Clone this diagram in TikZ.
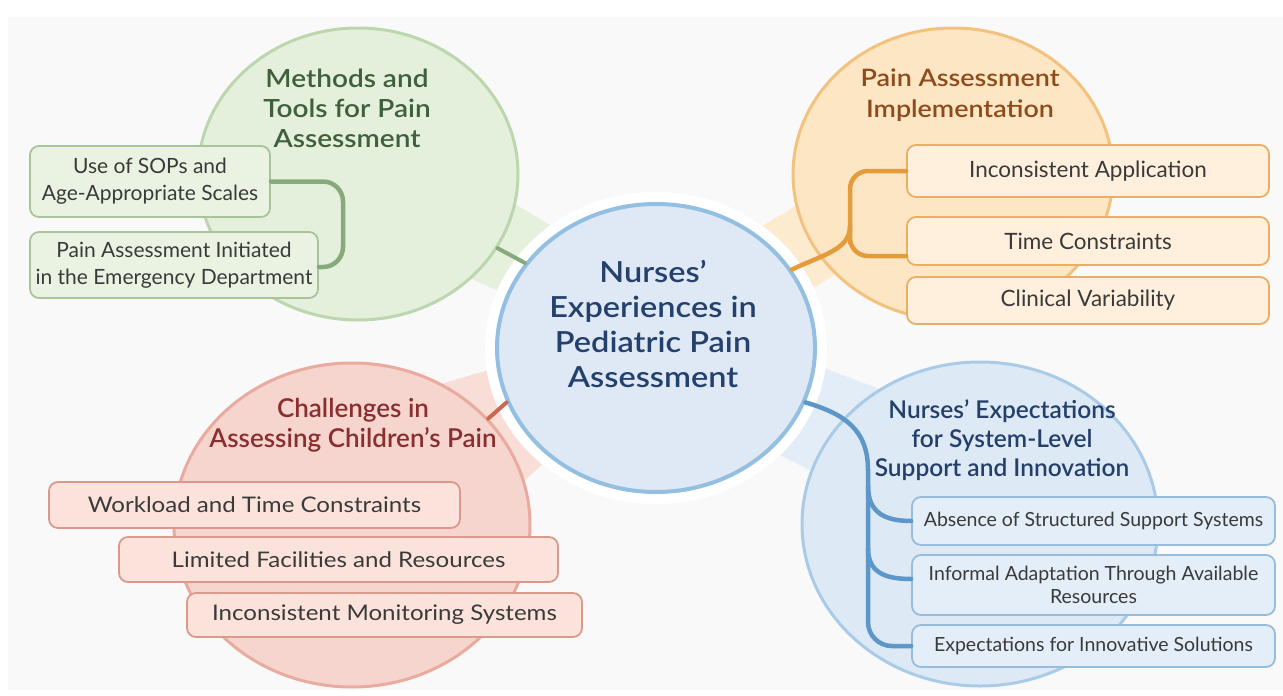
\documentclass[tikz,border=0pt]{standalone}
\usepackage{fontspec}
\setmainfont{Lato}[BoldFont={Lato Semibold}]
\newfontfamily\widefont{Lato}[Ligatures=TeX, FakeStretch=1.12, BoldFont={Lato Semibold}]
\usetikzlibrary{shapes.geometric}

\definecolor{panel}{HTML}{F9F9F9}
\definecolor{corefill}{HTML}{DFE9F5}
\definecolor{coreline}{HTML}{93BFE2}
\definecolor{coretext}{HTML}{24406C}
\definecolor{grfill}{HTML}{E4F0DC}
\definecolor{grline}{HTML}{BCD6AE}
\definecolor{grbox}{HTML}{EAF3E2}
\definecolor{grboxline}{HTML}{A9C49B}
\definecolor{grtext}{HTML}{3F5F3D}
\definecolor{grlink}{HTML}{87AA7C}
\definecolor{grfan}{HTML}{E6F1DD}
\definecolor{orfill}{HTML}{FDE6C4}
\definecolor{orline}{HTML}{F4C27F}
\definecolor{orbox}{HTML}{FEF0DC}
\definecolor{orboxline}{HTML}{E8B066}
\definecolor{ortext}{HTML}{8E4B1C}
\definecolor{orlink}{HTML}{E39B3C}
\definecolor{orfan}{HTML}{FDEBD0}
\definecolor{rdfill}{HTML}{F6D5CE}
\definecolor{rdline}{HTML}{E9AA9F}
\definecolor{rdbox}{HTML}{FBE3DB}
\definecolor{rdboxline}{HTML}{DA998B}
\definecolor{rdtext}{HTML}{8A2F2F}
\definecolor{rdlink}{HTML}{C9694F}
\definecolor{rdfan}{HTML}{F8DED7}
\definecolor{blfill}{HTML}{DDE9F5}
\definecolor{blline}{HTML}{AACBE7}
\definecolor{blbox}{HTML}{E4EEF8}
\definecolor{blboxline}{HTML}{97BCDC}
\definecolor{bltext}{HTML}{253F6B}
\definecolor{bllink}{HTML}{5D97C9}
\definecolor{blfan}{HTML}{E3EDF7}
\definecolor{itemtext}{HTML}{3A3A3A}

\begin{document}
\begin{tikzpicture}[x=1pt, y=-1pt,
    hub/.style={ellipse, draw=coreline, fill=corefill, line width=4pt,
        minimum width=318pt, minimum height=288pt, inner sep=0pt},
    topic/.style={ellipse, line width=3pt, inner sep=0pt},
    title/.style={align=center, inner sep=0pt, font=\bfseries\fontsize{25}{30}\selectfont},
    item/.style={rounded corners=9pt, line width=1.8pt, inner sep=0pt, align=center,
        text=itemtext, font=\fontsize{21}{27}\selectfont},
    smallitem/.style={item, font=\fontsize{19.5}{23}\selectfont},
    link/.style={line width=4.5pt, line cap=round}
]

% page and panel
\useasboundingbox (0,0) rectangle (1283,696);
\fill[white] (0,0) rectangle (1283,696);
\fill[panel] (8,17) rectangle (1283,690);

% light fans between the topics and the hub
\fill[grfan] (490,189) -- (575,240) -- (540,309) -- (460,274) -- cycle;
\fill[orfan] (740,239) -- (840,180) -- (840,272) -- (740,331) -- cycle;
\fill[rdfan] (430,387) -- (510,364) -- (565,444) -- (505,498) -- cycle;
\fill[blfan] (800,359) -- (890,393) -- (840,485) -- (770,450) -- cycle;

% topic circles
\node[topic, draw=grline, fill=grfill, minimum width=320pt, minimum height=292pt] (methods) at (358,174) {};
\node[topic, draw=orline, fill=orfill, minimum width=320pt, minimum height=292pt] (impl) at (953,174) {};
\node[topic, draw=rdline, fill=rdfill, minimum width=356pt, minimum height=324pt] (chall) at (352,525) {};
\node[topic, draw=blline, fill=blfill, minimum width=356pt, minimum height=324pt] (expect) at (980,524) {};

% hub with a white ring round it
\fill[white] (656,348) ellipse [x radius=171, y radius=156];
\node[hub] (core) at (656,348) {};
\node[align=center, text=coretext, font=\widefont\bfseries\fontsize{29}{35}\selectfont] (coretitle) at (653,324)
    {Nurses’\\Experiences in\\Pediatric Pain\\Assessment};

% topic titles
\node[title, text=grtext, font=\widefont\bfseries\fontsize{25}{30}\selectfont] (mtitle) at (347,108) {Methods and\\Tools for Pain\\Assessment};
\node[title, text=ortext, font=\widefont\bfseries\fontsize{24}{31}\selectfont] (ititle) at (960,95) {Pain Assessment\\Implementation};
\node[title, text=rdtext, font=\bfseries\fontsize{26}{30}\selectfont] (ctitle) at (353,425) {Challenges in\\Assessing Children’s Pain};
\node[title, text=bltext, font=\bfseries\fontsize{24.5}{29}\selectfont] (etitle) at (1002,440) {Nurses’ Expectations\\for System-Level\\Support and Innovation};

% methods and tools
\node[item, draw=grboxline, fill=grbox, minimum width=240pt, minimum height=71pt] (sop) at (150,181.5)
    {Use of SOPs and\\Age-Appropriate Scales};
\node[item, draw=grboxline, fill=grbox, minimum width=288pt, minimum height=66pt] (ed) at (174,265)
    {Pain Assessment Initiated\\in the Emergency Department};

% implementation
\node[item, font=\fontsize{22.5}{27}\selectfont, draw=orboxline, fill=orbox, minimum width=362pt, minimum height=52pt] (incons) at (1088,171) {Inconsistent Application};
\node[item, font=\fontsize{22.5}{27}\selectfont, draw=orboxline, fill=orbox, minimum width=362pt, minimum height=48pt] (timec) at (1088,241) {Time Constraints};
\node[item, font=\fontsize{22.5}{27}\selectfont, draw=orboxline, fill=orbox, minimum width=362pt, minimum height=47pt] (clinvar) at (1088,300.5) {Clinical Variability};

% challenges
\node[item, font=\widefont\fontsize{21.5}{27}\selectfont, draw=rdboxline, fill=rdbox, minimum width=411pt, minimum height=46pt] (workload) at (254.5,505) {Workload and Time Constraints};
\node[item, font=\widefont\fontsize{21.5}{27}\selectfont, draw=rdboxline, fill=rdbox, minimum width=439pt, minimum height=45pt] (facil) at (338.5,559.5) {Limited Facilities and Resources};
\node[item, font=\widefont\fontsize{21.5}{27}\selectfont, draw=rdboxline, fill=rdbox, minimum width=395pt, minimum height=44pt] (monit) at (384.5,615) {Inconsistent Monitoring Systems};

% expectations
\node[smallitem, draw=blboxline, fill=blbox, minimum width=363pt, minimum height=48pt] (absence) at (1093.5,521) {Absence of Structured Support Systems};
\node[smallitem, draw=blboxline, fill=blbox, minimum width=363pt, minimum height=60pt] (informal) at (1093.5,585)
    {Informal Adaptation Through Available\\Resources};
\node[smallitem, draw=blboxline, fill=blbox, minimum width=363pt, minimum height=42pt] (innov) at (1093.5,646) {Expectations for Innovative Solutions};

% branch points
\coordinate (gspine) at (343,222);
\coordinate (osplit) at (850,226);
\coordinate (bsplit) at (868,470);
\coordinate (bfirst) at (868,486);
\coordinate (bsecond) at (868,548);

% links to the hub
\draw[link, grlink, line width=4pt] (methods.-28) -- (core.147);
\draw[link, rdlink, line width=4pt] (chall.38) -- (core.200);
\draw[link, orlink] (core.30) .. controls (822,255) and (850,250) .. (osplit);
\draw[link, bllink] (core.-20) .. controls (845,414) and (868,430) .. (bsplit);

% brackets to the items
\draw[link, grlink, rounded corners=20pt] (sop.east) -| (gspine) |- ([yshift=-2pt]ed.east);
\draw[link, orlink, rounded corners=18pt] (incons.west) -| (osplit) |- ([yshift=-15pt]timec.west);
\draw[link, bllink, rounded corners=24pt] (bsplit) |- (innov.west);
\draw[link, bllink] (bfirst) .. controls (868,512) and (884,521) .. (absence.west);
\draw[link, bllink] (bsecond) .. controls (868,572) and (884,579) .. ([yshift=6pt]informal.west);

\end{tikzpicture}
\end{document}
